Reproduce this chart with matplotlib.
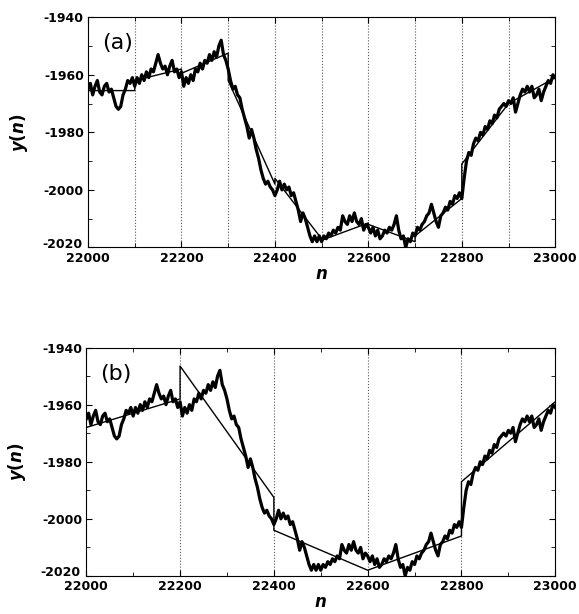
import matplotlib.pyplot as plt
from matplotlib.ticker import MultipleLocator, FuncFormatter
import numpy as np

plt.rcParams['axes.unicode_minus'] = False
plt.rcParams['mathtext.fontset'] = 'custom'
plt.rcParams['mathtext.it'] = 'DejaVu Sans:bold:italic'
plt.rcParams['mathtext.rm'] = 'DejaVu Sans:bold'

# integrated walk y(n), read every 5 steps from 22000 to 23000
walk = [
    -1965, -1963, -1967, -1964, -1962, -1966, -1967, -1964, -1963, -1966,
    -1965, -1968, -1971, -1972, -1971, -1967, -1965, -1962, -1963, -1961,
    -1964, -1961, -1963, -1960, -1962, -1959, -1961, -1958, -1959, -1956,
    -1953, -1956, -1958, -1957, -1960, -1957, -1955, -1959, -1958, -1961,
    -1959, -1964, -1961, -1963, -1960, -1962, -1958, -1959, -1956, -1958,
    -1955, -1956, -1953, -1955, -1952, -1954, -1950, -1948, -1953, -1955,
    -1958, -1962, -1965, -1964, -1967, -1968, -1972, -1975, -1978, -1982,
    -1979, -1982, -1986, -1989, -1993, -1996, -1998, -1997, -1999, -2000,
    -2002, -2000, -1997, -2000, -1998, -2000, -1999, -2002, -2001, -2004,
    -2007, -2011, -2008, -2010, -2013, -2016, -2018, -2016, -2018, -2016,
    -2018, -2016, -2017, -2015, -2016, -2014, -2015, -2013, -2014, -2009,
    -2011, -2012, -2009, -2011, -2008, -2011, -2012, -2010, -2014, -2012,
    -2013, -2015, -2013, -2016, -2014, -2017, -2016, -2014, -2015, -2013,
    -2014, -2012, -2009, -2014, -2017, -2016, -2020, -2017, -2018, -2015,
    -2016, -2013, -2014, -2012, -2011, -2009, -2008, -2005, -2008, -2011,
    -2013, -2009, -2008, -2006, -2007, -2004, -2005, -2002, -2003, -2001,
    -2003, -1996, -1990, -1987, -1988, -1984, -1982, -1983, -1980, -1981,
    -1978, -1979, -1976, -1977, -1974, -1975, -1972, -1971, -1970, -1971,
    -1969, -1970, -1968, -1973, -1970, -1967, -1965, -1966, -1964, -1966,
    -1964, -1968, -1967, -1965, -1969, -1966, -1964, -1962, -1963, -1960,
    -1961,
]
n = np.arange(22000, 23001, 5)

# local linear trends, box size 100 (a): start/end value of each box
box_a = [22000, 22100, 22200, 22300, 22400, 22500, 22600, 22700, 22800, 22900, 23000]
fit_a = [(-1965.5, -1965.5), (-1962, -1958), (-1959.5, -1952.5), (-1962, -1998),
         (-1996, -2017), (-2017.5, -2011.5), (-2012, -2018), (-2016, -2003),
         (-1991, -1970), (-1970, -1961)]

# box size 200 (b)
box_b = [22000, 22200, 22400, 22600, 22800, 23000]
fit_b = [(-1968, -1958), (-1946.5, -1992.5), (-2004, -2018), (-2018, -2006),
         (-1987, -1959)]

y_lo, y_hi = -2020, -1940


def trend_line(edges, ends):
    xs, ys = [], []
    for i, (y0, y1) in enumerate(ends):
        xs += [edges[i], edges[i + 1]]
        ys += [y0, y1]
    return xs, ys


fig = plt.figure(figsize=(5.79, 6.14), dpi=100)
ax1 = fig.add_axes([0.152, 0.597, 0.807, 0.375])
ax2 = fig.add_axes([0.149, 0.062, 0.810, 0.372])

for ax, edges, ends, tag in [(ax1, box_a, fit_a, '(a)'), (ax2, box_b, fit_b, '(b)')]:
    for e in edges[1:-1]:
        ax.axvline(e, color='0.35', ls=':', lw=0.8, zorder=1)
    ax.plot(n, walk, color='black', lw=2.3, zorder=3)
    tx, ty = trend_line(edges, ends)
    ax.plot(tx, ty, color='black', lw=1.0, zorder=4)
    ax.set_xlim(22000, 23000)
    ax.set_ylim(y_lo, y_hi)
    ax.xaxis.set_major_locator(MultipleLocator(200))
    ax.xaxis.set_minor_locator(MultipleLocator(100))
    ax.yaxis.set_major_locator(MultipleLocator(20))
    ax.yaxis.set_minor_locator(MultipleLocator(10))
    # lowest y label is written by hand a bit above the corner
    ax.yaxis.set_major_formatter(FuncFormatter(
        lambda v, p: '' if abs(v - y_lo) < 1e-6 else '%d' % v))
    ax.tick_params(which='both', direction='in', top=True, right=True,
                   labelsize=9, pad=3)
    ax.tick_params(which='major', length=4)
    ax.tick_params(which='minor', length=3)
    for lab in ax.get_xticklabels() + ax.get_yticklabels():
        lab.set_fontweight('bold')
    ax.text(-0.012, 0.014, '%d' % y_lo, transform=ax.transAxes, fontsize=9,
            fontweight='bold', ha='right', va='center')
    ax.set_xlabel('$n$', fontsize=12, labelpad=0)
    ax.set_ylabel('$y(n)$', fontsize=12, labelpad=10)
    ax.text(0.03, 0.93, tag, transform=ax.transAxes, fontsize=16,
            va='top', ha='left')

plt.savefig('out.png', dpi=100)
